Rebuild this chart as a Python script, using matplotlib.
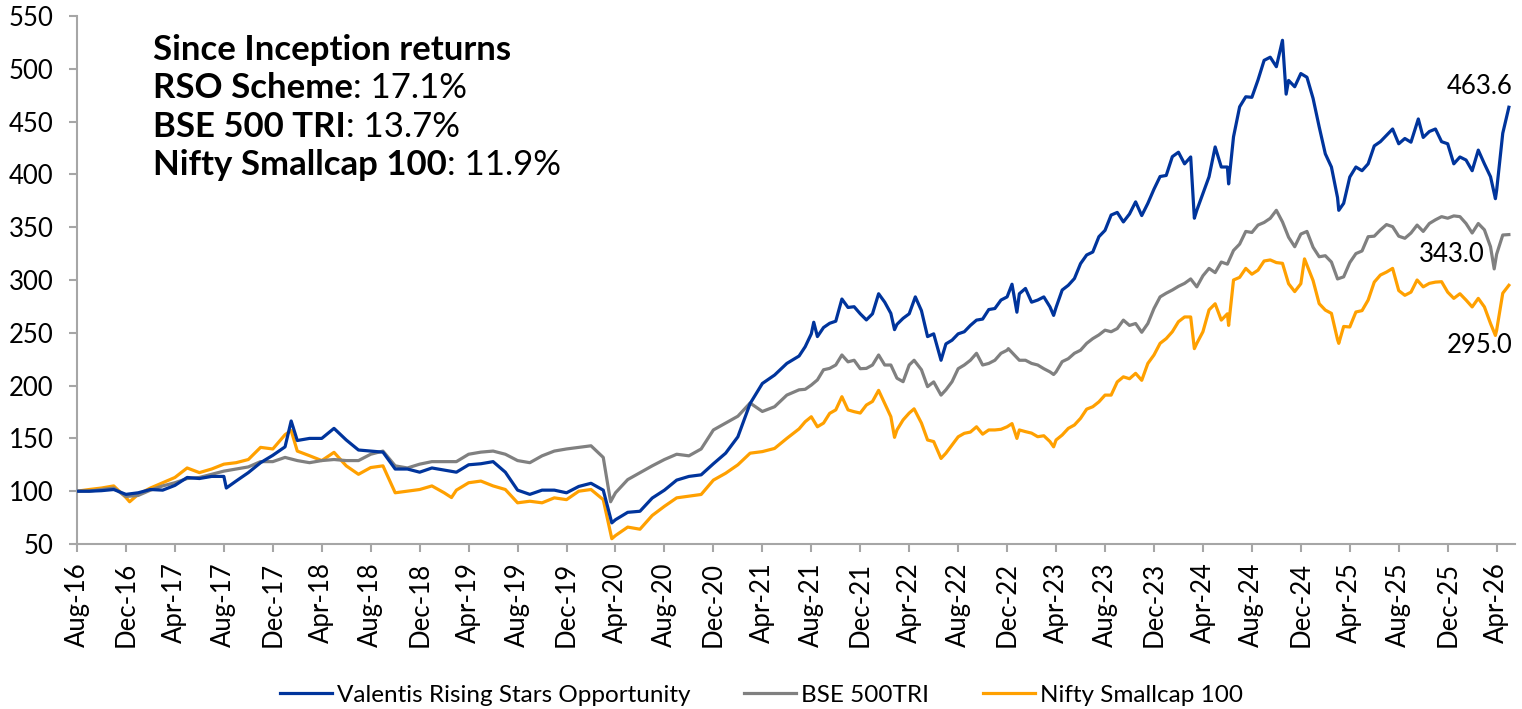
#!/usr/bin/env python3
# -*- coding: utf-8 -*-

"""
Growth of 100 since inception: RSO scheme vs BSE 500 TRI vs Nifty Smallcap 100.
Values are month-start readings (x = months since Aug-16), plus intra-month
readings (mid-month points, sharp peaks / troughs) so the swings survive.
"""

import numpy as np
import matplotlib
matplotlib.use("Agg")
import matplotlib.pyplot as plt

# ── Data ──────────────────────────────────────────────────────────────────
TICK_LABELS = [
    "Aug-16", "Dec-16", "Apr-17", "Aug-17", "Dec-17", "Apr-18", "Aug-18",
    "Dec-18", "Apr-19", "Aug-19", "Dec-19", "Apr-20", "Aug-20", "Dec-20",
    "Apr-21", "Aug-21", "Dec-21", "Apr-22", "Aug-22", "Dec-22", "Apr-23",
    "Aug-23", "Dec-23", "Apr-24", "Aug-24", "Dec-24", "Apr-25", "Aug-25",
    "Dec-25", "Apr-26",
]

SERIES_NAMES = ["Valentis Rising Stars Opportunity", "BSE 500TRI", "Nifty Smallcap 100"]

# month-start values, Aug-16 (index 0) .. May-26 (index 117)
rso_monthly = [
    100, 100, 100.5, 101.6, 97, 98.5, 101.6, 101, 105.5, 113, 112, 114, 114, 109.6, 117.6, 127,
    134, 142, 148, 150, 150, 159.5, 148.5, 139, 138, 137, 121, 121, 118, 122, 120, 118,
    125, 126, 128, 118, 101, 97, 101, 101, 98.5, 104.5, 107.5, 101, 73, 80, 81, 93.5,
    101, 110.5, 114, 115.5, 126, 136, 151.5, 183, 202, 210, 221, 228, 249, 255, 261, 274,
    268, 268, 279, 258, 268, 271, 249, 239.5, 249, 257, 263, 273, 284, 287, 279, 284,
    274, 295, 315.5, 326.5, 347, 364, 362.5, 361, 386, 399, 421, 416.5, 382, 426, 407, 464,
    473, 508, 502, 489, 495.5, 472, 419.5, 378, 397.5, 403.5, 427, 437, 429, 430.5, 435, 443,
    429, 416.5, 403.5, 410, 385, 463.6,
]
rso_intra_month = [
    12.2, 17.5, 43.7, 59.5, 60.2, 60.5, 61.5, 62.5, 63.5, 64.5, 65.5, 66.5, 66.8, 67.5,
    68.5, 69.5, 70.6, 71.5, 72.5, 73.5, 74.5, 75.5, 76.4, 76.8, 77.5, 78.5, 79.5, 79.8,
    80.5, 81.5, 82.5, 83.5, 84.5, 85.5, 86.5, 87.5, 88.5, 89.5, 90.5, 91.3, 91.5, 92.5,
    93.5, 94.1, 94.5, 95.5, 96.5, 97.5, 98.5, 98.8, 99.5, 100.5, 101.5, 102.5, 103.1,
    103.5, 104.5, 105.5, 106.5, 107.5, 108.5, 109.6, 110.5, 111.5, 112.5, 113.5, 114.5,
    115.5, 115.9, 116.5,
]
rso_intra_value = [
    103, 166.5, 70, 236.8, 260, 246.4, 259, 282, 274.7, 262.2, 287, 268.4, 253, 263.7,
    284, 246.4, 224, 243, 251, 262, 272, 281, 296, 269.5, 292, 281, 274.6, 266.5,
    290.5, 301.4, 323.7, 341, 361.5, 355, 374, 372.6, 398, 416.8, 410, 358.5, 366, 397.8,
    407, 391, 435.6, 473.5, 489.4, 511, 527, 476, 483, 492, 445, 407, 366,
    372.6, 407, 410, 431, 443, 434, 452.5, 440.6, 431, 410, 413.6, 423,
    397.8, 377, 439,
]

bse_monthly = [
    100, 100, 101.6, 103, 95, 96, 101, 105, 108, 112, 113, 116, 119, 121, 123, 128,
    128, 132, 129, 127, 129, 130, 129, 129, 135, 138, 124, 122, 125.6, 128, 128, 128,
    135, 137, 138, 135, 129, 127, 133.5, 138, 140, 141.5, 143, 132, 98.5, 111, 117.5, 124,
    130, 135, 133.5, 140, 158, 164.5, 171, 183.5, 175.5, 180, 191, 196, 200.5, 215, 219.5, 222.5,
    216, 219.5, 219.5, 207, 219.5, 215, 203.5, 196, 216, 224, 219.5, 224, 233.5, 224, 221, 216,
    213, 225.5, 233.5, 244.5, 252.5, 254, 257, 250.5, 273, 287.5, 294, 301, 304, 307, 315, 334,
    345, 354.5, 366, 340.5, 343.5, 331, 323, 301, 316.5, 327.5, 341.5, 352.5, 341.5, 344.5, 346, 357,
    358.5, 360, 344.5, 347.5, 324.5, 343.0,
]
bse_intra_month = [
    43.6, 59.5, 60.5, 61.5, 62.5, 63.5, 64.5, 65.5, 66.5, 67.5, 68.4, 69.5, 70.6, 71.5,
    72.5, 73.5, 74.5, 75.5, 76.1, 77.5, 78.5, 79.5, 79.8, 80.5, 81.5, 82.5, 83.5, 84.5,
    85.5, 86.5, 87.5, 88.5, 89.5, 90.5, 91.5, 92.5, 93.5, 94.5, 95.5, 96.5, 97.5, 98.5,
    99.5, 100.5, 101.5, 102.5, 103.5, 104.5, 105.5, 106.5, 107.5, 108.5, 109.5, 110.5,
    111.5, 112.5, 113.5, 114.5, 115.5, 115.8, 116.5,
]
bse_intra_value = [
    90, 196.5, 205.4, 216.3, 229, 224, 216.3, 229, 219.5, 203.7, 224, 199, 191, 203.7,
    219.5, 230.6, 221, 230.6, 235, 224, 219.5, 213, 210.5, 222.7, 230.6, 240, 248, 251,
    262, 258.8, 258.8, 284, 290.5, 296.8, 293.5, 311, 317, 328, 346, 352, 358.4, 355,
    331.5, 346, 322, 317, 303, 325, 341, 347.4, 350.5, 339.5, 352, 353.5,
    360, 360.7, 353.5, 353.5, 331.5, 310.5, 342.6,
]

nsc_monthly = [
    100, 101.6, 103, 105, 94, 97, 103, 108, 113, 122, 117.6, 121, 125.6, 127, 130, 141.5,
    140, 153.5, 138, 133.6, 129, 136.8, 124, 116, 122.4, 124, 98.5, 100, 101.6, 105, 98.5, 101,
    108, 109.6, 105, 101.6, 89, 90.5, 89, 93.7, 92, 100, 101.6, 92, 58, 66, 64, 77,
    85.7, 93.7, 95.3, 96.9, 110.5, 117, 125, 136, 137.5, 140.5, 150, 159, 170.5, 164.5, 177, 177,
    174, 185, 183, 158, 174, 164.5, 147, 136, 151.5, 156, 154, 158, 161, 158, 155, 152.5,
    148.5, 159.5, 169, 180, 191, 203.5, 206.5, 205, 229, 244.5, 260.5, 265, 251, 277.5, 268, 302.5,
    305.5, 318, 316.5, 296.5, 296.5, 299.5, 271.5, 243.5, 255.5, 271, 298, 307.5, 290, 288.5, 293.5, 298,
    288.5, 287, 274.5, 274.5, 252.5, 295.0,
]
nsc_intra_month = [
    4.3, 17.5, 30.6, 43.7, 59.5, 60.5, 61.5, 62.5, 63.5, 64.5, 65.5, 66.5, 66.8, 67.5,
    68.4, 69.5, 70.6, 71.5, 72.5, 73.5, 74.5, 75.5, 76.4, 76.8, 77.5, 78.5, 79.5, 79.8,
    80.5, 81.5, 82.5, 83.5, 84.5, 85.5, 86.5, 87.5, 88.5, 89.5, 90.5, 91.3, 91.5, 92.5,
    93.5, 94.1, 94.5, 95.5, 96.5, 97.5, 98.5, 99.5, 100.3, 101.5, 102.5, 103.1, 103.5,
    104.5, 105.5, 106.5, 107.5, 108.5, 109.5, 110.5, 111.5, 112.5, 113.5, 114.5, 115.5,
    115.9, 116.5,
]
nsc_intra_value = [
    90, 157.5, 94, 55, 165.8, 161, 173.7, 189.5, 175.3, 181.6, 195.5, 170.6, 151, 167.5,
    178, 148.5, 131, 143.7, 154.8, 161, 158, 158.6, 164, 150, 156.4, 151.6, 147, 142,
    153.2, 162.7, 177.7, 184.6, 191, 208.3, 211.6, 221, 240, 251, 265, 235, 240, 271.7,
    262, 257, 300, 311, 309.3, 319, 315.8, 289, 320, 277.6, 268.4, 240, 256,
    269.7, 281, 304.7, 311, 285.5, 300, 296.8, 298.4, 282.6, 281, 282.6, 258.8,
    247.5, 287.5,
]

END_LABELS = ["463.6", "343.0", "295.0"]

SUMMARY_LINES = [
    ("Since Inception returns", ""),
    ("RSO Scheme", ": 17.1%"),
    ("BSE 500 TRI", ": 13.7%"),
    ("Nifty Smallcap 100", ": 11.9%"),
]

# ── Style ─────────────────────────────────────────────────────────────────
COLORS = ["#00349C", "#808080", "#FFA000"]
AXIS_GREY = "#A6A6A6"
FONT = ["Lato", "DejaVu Sans"]
TICK_SIZE = 18.5


def merge(monthly, intra_m, intra_v):
    months = np.arange(len(monthly), dtype=float)
    x = np.concatenate([months, np.asarray(intra_m, dtype=float)])
    y = np.concatenate([np.asarray(monthly, dtype=float), np.asarray(intra_v, dtype=float)])
    order = np.argsort(x, kind="stable")
    return x[order], y[order]


def main():
    plt.rcParams["font.family"] = FONT

    W, H = 1522, 709
    fig = plt.figure(figsize=(W / 100, H / 100), dpi=100)
    ax = fig.add_axes([77 / W, (H - 544) / H, (1515 - 77) / W, (544 - 16) / H])

    series = [
        merge(rso_monthly, rso_intra_month, rso_intra_value),
        merge(bse_monthly, bse_intra_month, bse_intra_value),
        merge(nsc_monthly, nsc_intra_month, nsc_intra_value),
    ]
    # blue on top, orange at the bottom
    for (x, y), name, color, z in zip(series, SERIES_NAMES, COLORS, [3, 2, 1]):
        ax.plot(x, y, color=color, lw=2.3, label=name, zorder=z, solid_joinstyle="round")

    ax.set_xlim(0, 117.5)
    ax.set_ylim(50, 550)
    ax.set_yticks(np.arange(50, 551, 50))
    ax.set_xticks(np.arange(0, 4 * len(TICK_LABELS), 4))
    ax.set_xticklabels(TICK_LABELS, rotation=90, ha="center", va="top")

    for side in ["top", "right"]:
        ax.spines[side].set_visible(False)
    for side in ["left", "bottom"]:
        ax.spines[side].set_color(AXIS_GREY)
        ax.spines[side].set_linewidth(1.5)

    ax.tick_params(axis="y", length=5.5, width=1.5, color=AXIS_GREY,
                   labelsize=TICK_SIZE, pad=11.5)
    ax.tick_params(axis="x", length=5.5, width=1.5, color=AXIS_GREY,
                   labelsize=TICK_SIZE, pad=7.5)

    # ── End-of-series value labels ────────────────────────────────────────
    ax.text(117.3, 482.8, END_LABELS[0], ha="right", va="center", fontsize=TICK_SIZE)
    ax.text(115.0, 323.7, END_LABELS[1], ha="right", va="center", fontsize=TICK_SIZE)
    ax.text(117.3, 238.4, END_LABELS[2], ha="right", va="center", fontsize=TICK_SIZE)

    # ── Since-inception summary (bold name + regular figure) ──────────────
    renderer = fig.canvas.get_renderer()
    inv = fig.transFigure.inverted()
    baselines = [60, 98.3, 136.7, 175]
    for (bold, rest), yb in zip(SUMMARY_LINES, baselines):
        yf = 1 - yb / H
        t = fig.text(153 / W, yf, bold, fontsize=25, fontweight="bold", va="baseline")
        if rest:
            bb = t.get_window_extent(renderer)
            x_end = inv.transform((bb.x1, bb.y0))[0]
            fig.text(x_end, yf, rest, fontsize=25, va="baseline")

    # ── Legend ────────────────────────────────────────────────────────────
    fig.legend(loc="center", bbox_to_anchor=(0.5003, 1 - 695 / H), ncol=3,
               frameon=False, fontsize=17.5, handlelength=2.15,
               handletextpad=0.2, columnspacing=2.2)

    fig.savefig("out.png", dpi=100)


if __name__ == "__main__":
    main()
